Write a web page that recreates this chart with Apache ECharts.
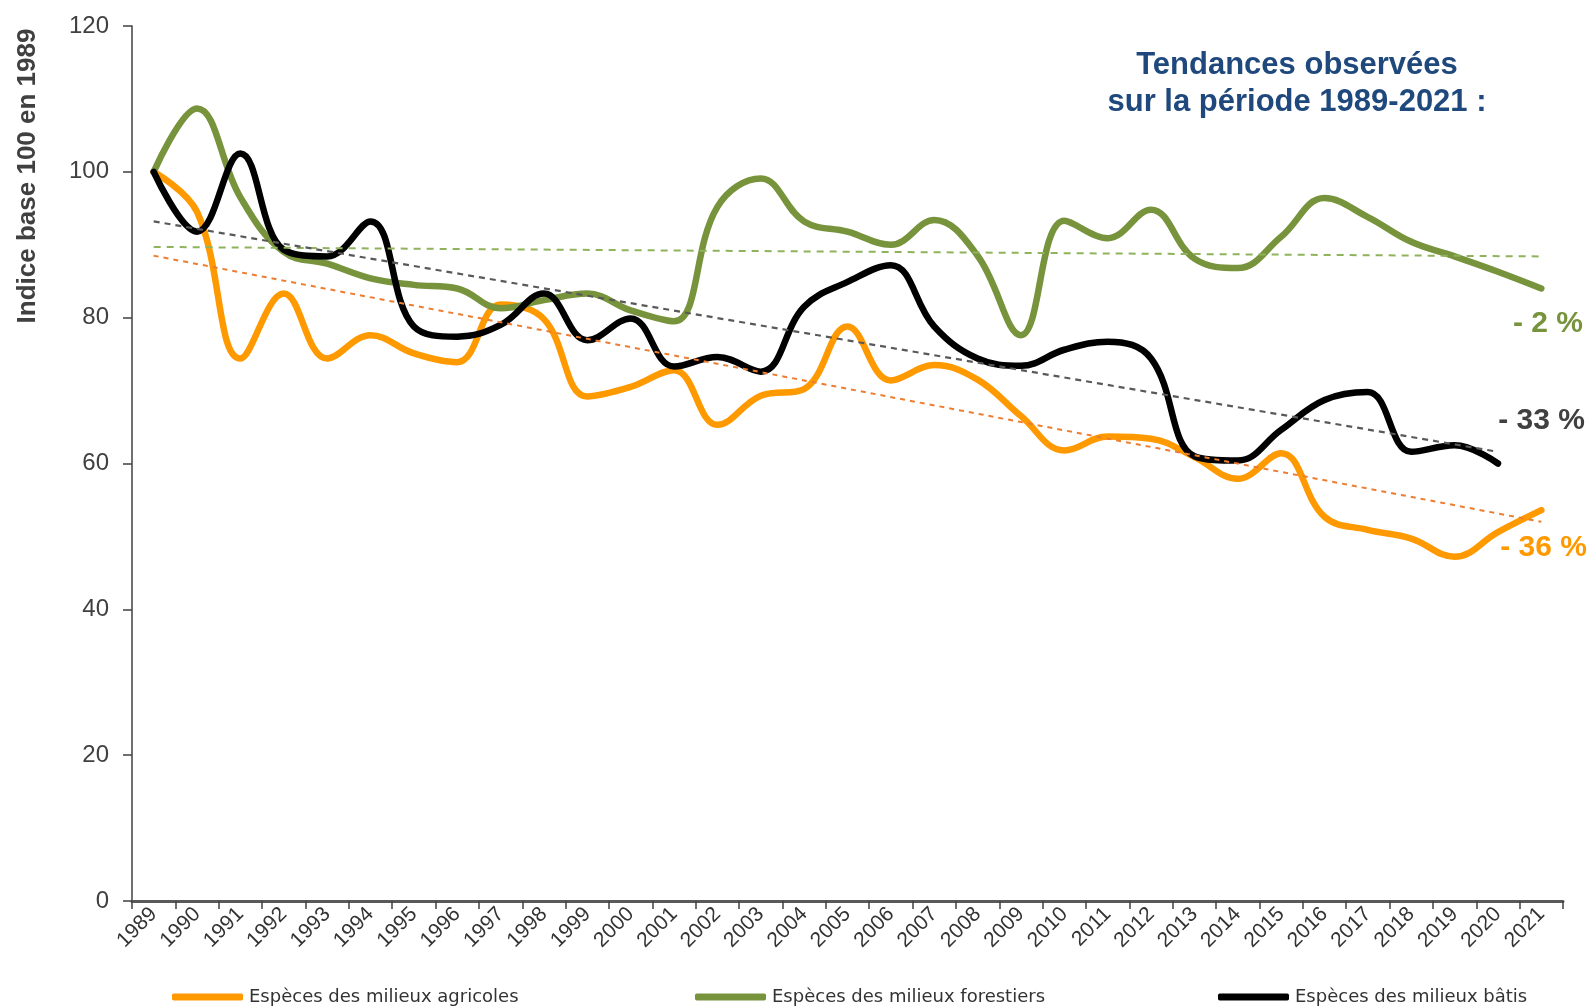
<!DOCTYPE html>
<html>
<head>
<meta charset="utf-8">
<title>Indice base 100 en 1989</title>
<script src="https://cdn.jsdelivr.net/npm/echarts@6.0.0/dist/echarts.min.js"></script>
<style>
  html, body { margin: 0; padding: 0; background: #fff; }
  #chart { width: 1591px; height: 1008px; }
</style>
</head>
<body>
<div id="chart"></div>
<script>
const years = ['1989', '1990', '1991', '1992', '1993', '1994', '1995', '1996', '1997', '1998',
  '1999', '2000', '2001', '2002', '2003', '2004', '2005', '2006', '2007', '2008', '2009',
  '2010', '2011', '2012', '2013', '2014', '2015', '2016', '2017', '2018', '2019', '2020', '2021']

// especes des milieux agricoles
const agricoles = [100, 94.5, 74.4, 83.3, 74.4, 77.6, 75.1, 73.9, 81.8, 79.8,
  69.2, 70.5, 72.8, 65.3, 69.3, 70.2, 78.8, 71.4, 73.5, 71.5, 66.5,
  61.8, 63.7, 63.4, 60.9, 57.9, 61.4, 52.7, 50.9, 49.7, 47.2, 50.6, 53.6]

// especes des milieux forestiers
const forestiers = [100, 108.7, 96.5, 89.0, 87.4, 85.4, 84.5, 84.0, 81.3, 82.4,
  83.3, 81.0, 79.5, 95.2, 99.1, 93.2, 91.8, 90.0, 93.4, 88.5, 77.6,
  93.3, 90.9, 94.8, 88.1, 86.8, 91.1, 96.4, 93.8, 90.4, 88.4, 86.3, 84.0]

// especes des milieux batis (pas de valeur 2021)
const batis = [100, 91.8, 102.5, 89.3, 88.4, 93.2, 78.8, 77.4, 79.0, 83.3,
  76.9, 79.9, 73.3, 74.6, 72.6, 81.5, 84.9, 87.2, 78.8, 74.4, 73.4,
  75.6, 76.7, 74.4, 61.0, 60.4, 64.6, 68.7, 69.8, 61.6, 62.5, 60.0, null]

// tendances lineaires : valeurs de debut et de fin
const trendAgricoles = [['1989', 88.5], ['2021', 52.0]]
const trendForestiers = [['1989', 89.7], ['2021', 88.4]]
const trendBatis = [['1989', 93.2], ['2020', 61.6]]

const yTicks = { min: 0, max: 120, interval: 20 }

const names = ['Espèces des milieux agricoles', 'Espèces des milieux forestiers', 'Espèces des milieux bâtis']
const trendLabels = ['- 36 %', '- 2 %', '- 33 %']

const ORANGE = '#FF9900'
const GREEN = '#77933C'
const BLACK = '#000000'
const FONT = "'Liberation Sans', Arial, sans-serif"

const chart = echarts.init(document.getElementById('chart'))

function legendAt(left, name) {
  return {
    data: [name],
    left: left,
    top: 988,
    padding: 0,
    icon: 'roundRect',
    itemWidth: 71,
    itemHeight: 7,
    itemGap: 6,
    textStyle: {
      fontFamily: "'DejaVu Sans', sans-serif",
      fontSize: 18,
      color: '#333',
      padding: [0, 0, 0, 1]
    }
  }
}

function curve(name, data, color) {
  return {
    name: name,
    type: 'line',
    data: data,
    smooth: 0.4,
    showSymbol: false,
    symbol: 'none',
    color: color,
    lineStyle: { width: 6.5, color: color, cap: 'round', join: 'round' },
    itemStyle: { color: color },
    emphasis: { disabled: true }
  }
}

function trend(data, color, dash, width) {
  return {
    type: 'line',
    data: data,
    smooth: false,
    showSymbol: false,
    symbol: 'none',
    silent: true,
    z: 5,
    lineStyle: { width: width, color: color, type: dash },
    emphasis: { disabled: true }
  }
}

const option = {
  backgroundColor: '#fff',
  animation: false,
  textStyle: { fontFamily: FONT },
  grid: { left: 132, right: 28, top: 26, bottom: 107, containLabel: false },
  title: [
    {
      text: 'Tendances observées\nsur la période 1989-2021 :',
      left: 1297,
      top: 47,
      padding: 0,
      textAlign: 'center',
      textStyle: { fontFamily: FONT, fontSize: 31, fontWeight: 'bold', color: '#1F497D', lineHeight: 37 }
    },
    {
      text: trendLabels[1], right: 8, top: 307, padding: 0,
      textStyle: { fontFamily: FONT, fontSize: 30, fontWeight: 'bold', color: GREEN, lineHeight: 34 }
    },
    {
      text: trendLabels[2], right: 6, top: 404, padding: 0,
      textStyle: { fontFamily: FONT, fontSize: 30, fontWeight: 'bold', color: '#404040', lineHeight: 34 }
    },
    {
      text: trendLabels[0], right: 4, top: 531, padding: 0,
      textStyle: { fontFamily: FONT, fontSize: 30, fontWeight: 'bold', color: ORANGE, lineHeight: 34 }
    }
  ],
  graphic: [
    {
      type: 'text',
      x: 28,
      y: 176,
      rotation: Math.PI / 2,
      style: {
        text: 'Indice base 100 en 1989',
        font: "bold 26px 'Liberation Sans', Arial, sans-serif",
        fill: '#404040',
        align: 'center',
        verticalAlign: 'middle',
        textAlign: 'center',
        textVerticalAlign: 'middle'
      }
    }
  ],
  legend: [
    legendAt(172, names[0]),
    legendAt(695, names[1]),
    legendAt(1218, names[2])
  ],
  xAxis: {
    type: 'category',
    data: years,
    boundaryGap: true,
    axisLine: { show: true, lineStyle: { color: '#595959', width: 3 } },
    axisTick: { show: true, interval: 0, length: 8, lineStyle: { color: '#404040', width: 1.5 } },
    axisLabel: {
      interval: 0,
      rotate: 45,
      margin: 10,
      fontFamily: FONT,
      fontSize: 21,
      color: '#333'
    },
    splitLine: { show: false }
  },
  yAxis: {
    type: 'value',
    min: yTicks.min,
    max: yTicks.max,
    interval: yTicks.interval,
    axisLine: { show: true, lineStyle: { color: '#404040', width: 1.5 } },
    axisTick: { show: true, length: 9, lineStyle: { color: '#404040', width: 1.5 } },
    axisLabel: { margin: 23, fontFamily: FONT, fontSize: 24, color: '#404040' },
    splitLine: { show: false }
  },
  series: [
    curve(names[0], agricoles, ORANGE),
    curve(names[1], forestiers, GREEN),
    curve(names[2], batis, BLACK),
    trend(trendForestiers, '#8FB35A', [7, 6], 2),
    trend(trendBatis, '#595959', [6, 5], 2.2),
    trend(trendAgricoles, '#ED7D31', [5, 5], 2)
  ]
}

chart.setOption(option)
</script>
</body>
</html>
